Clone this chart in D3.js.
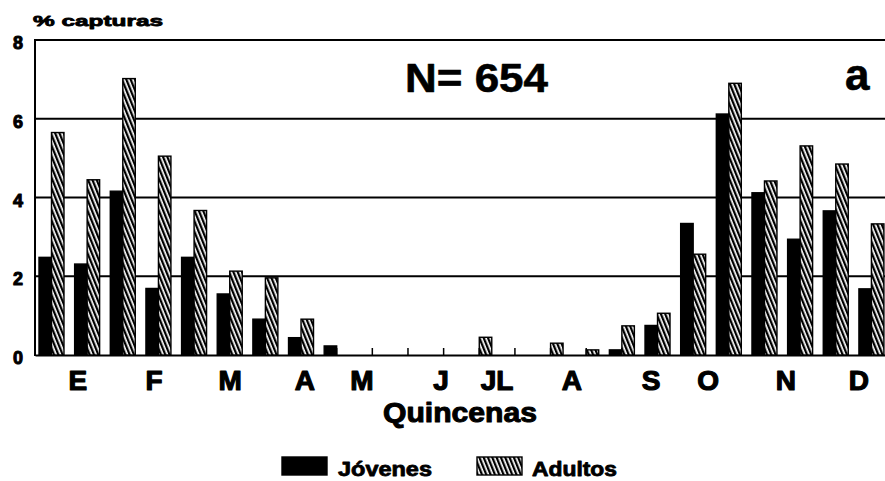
<!DOCTYPE html>
<html><head><meta charset="utf-8">
<script src="https://cdn.jsdelivr.net/npm/d3@7"></script>
<style>body{margin:0;background:#fff}svg{display:block}</style>
</head><body><svg id="c" width="885" height="481"></svg>
<script>
// ---- data ----
const categories = ["E-1","E-2","F-1","F-2","M-1","M-2","A-1","A-2","My-1","My-2","J-1","J-2",
                    "JL-1","JL-2","Ag-1","Ag-2","S-1","S-2","O-1","O-2","N-1","N-2","D-1","D-2"];
const jovenes = [2.48,2.31,4.16,1.69,2.48,1.55,0.91,0.44,0.23,0,0,0,
                 0,0,0,0,0.13,0.75,3.34,6.12,4.12,2.94,3.66,1.68];
const adultos = [5.65,4.45,7.02,5.05,3.67,2.13,1.96,0.91,0,0,0,0,
                 0.45,0,0.3,0.13,0.74,1.06,2.56,6.9,4.42,5.31,4.85,3.33];
const monthLabels = ["E","F","M","A","M","J","JL","A","S","O","N","D"];
const monthLabelIndex = [1.09,3.23,5.36,7.46,9.06,11.28,12.85,14.95,17.17,18.77,20.95,23.0];
const yTicks = [0,2,4,6,8];
const seriesNames = ["Jóvenes","Adultos"];

// ---- chart ----
const svg = d3.select("#c");
const font = "'Liberation Sans', Arial, sans-serif";

const defs = svg.append("defs");
const pat = defs.append("pattern").attr("id","hatch")
  .attr("patternUnits","userSpaceOnUse").attr("width",4).attr("height",8)
  .attr("patternTransform","rotate(-22)");
pat.append("rect").attr("width",4).attr("height",8).attr("fill","#fff");
pat.append("rect").attr("width",2.3).attr("height",8).attr("fill","#000");

const x = d3.scaleBand().domain(categories).range([35, 887.9])
  .paddingInner(0.299).paddingOuter(0.112);
const xs = d3.scaleBand().domain(seriesNames).range([0, x.bandwidth()]);
const y = d3.scaleLinear().domain([0,8]).range([355, 40]);
const xIdx = i => x(categories[0]) + i * x.step();

function heavy(sel, w){
  return sel.attr("font-family",font).attr("font-weight","bold")
    .attr("fill","#000").attr("stroke","#000").attr("stroke-width",w)
    .attr("stroke-linejoin","round");
}

// gridlines
svg.append("g").selectAll("line").data(yTicks.filter(d=>d>0)).join("line")
  .attr("x1",35).attr("x2",885).attr("y1",d=>y(d)).attr("y2",d=>y(d))
  .attr("stroke","#000").attr("stroke-width",2);

// x axis with inward ticks at group centers
const xAxis = svg.append("g").attr("transform",`translate(0,${y(0)})`)
  .call(d3.axisBottom(x).tickSizeInner(-7).tickSizeOuter(0).tickFormat(""));
xAxis.select(".domain").attr("stroke","#000").attr("stroke-width",2);
xAxis.selectAll(".tick line").attr("stroke","#000").attr("stroke-width",1.5);

// bars
const groups = svg.append("g").selectAll("g").data(categories).join("g")
  .attr("transform",d=>`translate(${x(d)},0)`);
groups.each(function(c,i){
  const g = d3.select(this);
  const vals = [jovenes[i], adultos[i]];
  vals.forEach((v,k)=>{
    if (v <= 0) return;
    g.append("rect")
      .attr("x", xs(seriesNames[k])).attr("width", xs.bandwidth())
      .attr("y", y(v)).attr("height", y(0)-y(v))
      .attr("fill", k===0 ? "#000" : "url(#hatch)")
      .attr("stroke","#000").attr("stroke-width",1.4);
  });
});

// y axis line
svg.append("line").attr("x1",35).attr("x2",35).attr("y1",y(8)-1).attr("y2",y(0)+1)
  .attr("stroke","#000").attr("stroke-width",2);

// y tick labels
heavy(svg.append("g").selectAll("text").data(yTicks).join("text")
  .attr("x",23).attr("y",d=>y(d)+9)
  .attr("text-anchor","end").attr("font-size",18).text(d=>d), 1);

// y title
heavy(svg.append("text").attr("x",33).attr("y",26).attr("font-size",15)
  .attr("textLength",130).attr("lengthAdjust","spacingAndGlyphs").text("% capturas"), 0.8);

// month labels
heavy(svg.append("g").selectAll("text").data(monthLabels).join("text")
  .attr("x",(d,i)=>xIdx(monthLabelIndex[i])).attr("y",390)
  .attr("text-anchor","middle").attr("font-size",28).text(d=>d), 1.2);

// x title
heavy(svg.append("text").attr("x",383).attr("y",422).attr("font-size",27)
  .attr("textLength",154).attr("lengthAdjust","spacingAndGlyphs").text("Quincenas"), 1);

// annotations
heavy(svg.append("text").attr("x",405).attr("y",92).attr("font-size",40)
  .attr("textLength",143).attr("lengthAdjust","spacingAndGlyphs").text("N= 654"), 0.6);
heavy(svg.append("text").attr("x",845).attr("y",90).attr("font-size",44).text("a"), 0.6);

// legend
const legX = [282, 477], legTextX = [338, 532], legLen = [94, 85];
seriesNames.forEach((n,k)=>{
  svg.append("rect").attr("x",legX[k]).attr("y",457).attr("width",45).attr("height",18)
    .attr("fill", k===0 ? "#000" : "url(#hatch)").attr("stroke","#000").attr("stroke-width",1.4);
  heavy(svg.append("text").attr("x",legTextX[k]).attr("y",476).attr("font-size",20)
    .attr("textLength",legLen[k]).attr("lengthAdjust","spacingAndGlyphs").text(n), 0.8);
});
</script></body></html>
